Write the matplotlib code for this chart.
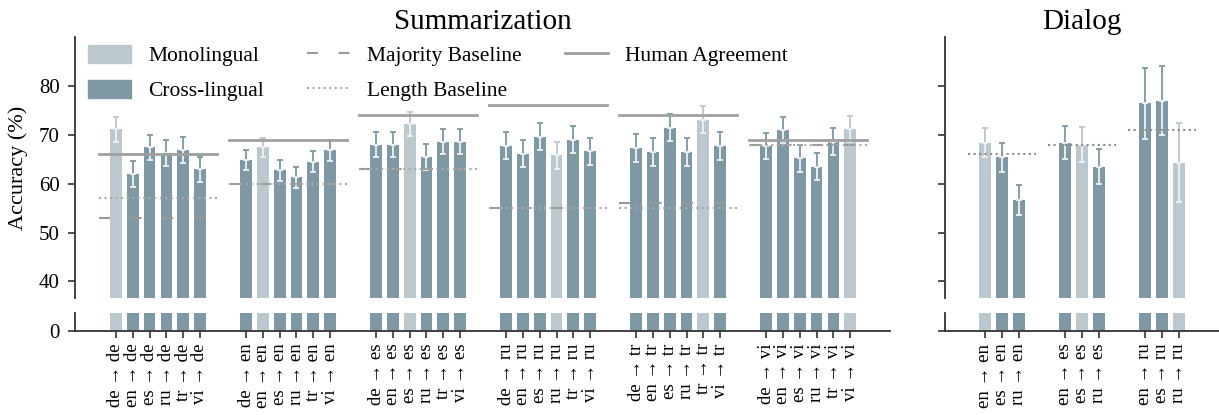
import numpy as np
import matplotlib
matplotlib.use("Agg")
import matplotlib.pyplot as plt
from matplotlib.patches import Patch
from matplotlib.lines import Line2D

plt.rcParams['font.family'] = ['Liberation Serif', 'DejaVu Serif']

# ---- data ----
langs = ['de', 'en', 'es', 'ru', 'tr', 'vi']

# summarization: one row per target language, columns = source language
summ_acc = [
    [71.1, 62.0, 67.4, 66.3, 66.8, 62.9],   # -> de
    [64.8, 67.4, 62.7, 61.3, 64.5, 66.8],   # -> en
    [68.0, 68.0, 72.2, 65.4, 68.6, 68.6],   # -> es
    [67.8, 66.1, 69.6, 65.8, 69.0, 66.6],   # -> ru
    [67.3, 66.5, 71.4, 66.5, 73.1, 67.7],   # -> tr
    [67.7, 70.9, 65.2, 63.5, 68.6, 71.2],   # -> vi
]
summ_err = [
    [2.5, 2.6, 2.6, 2.65, 2.65, 2.65],
    [2.1, 1.95, 2.1, 2.2, 2.1, 2.1],
    [2.5, 2.5, 2.5, 2.7, 2.55, 2.55],
    [2.8, 2.75, 2.75, 2.8, 2.75, 2.8],
    [2.85, 2.8, 2.75, 2.8, 2.7, 2.85],
    [2.75, 2.65, 2.8, 2.8, 2.7, 2.7],
]
summ_human = [66, 69, 74, 76, 74, 69]
summ_majority = [53, 60, 63, 55, 56, 68]
summ_length = [57, 60, 63, 55, 55, 68]

dial_langs = ['en', 'es', 'ru']
dial_acc = [
    [68.4, 65.4, 56.6],   # -> en
    [68.4, 68.0, 63.5],   # -> es
    [76.4, 77.0, 64.3],   # -> ru
]
dial_err = [
    [2.9, 2.95, 3.05],
    [3.45, 3.5, 3.6],
    [7.2, 7.15, 8.15],
]
dial_length = [66, 68, 71]

MONO = '#bcc8ce'
CROSS = '#7f99a4'
LINE = '#a0a0a0'
SPINE = '#333333'

W, H = 1219, 415
fig = plt.figure(figsize=(W / 100, H / 100), dpi=100)


def rect(x0, x1, ytop, ybot):
    return [x0 / W, 1 - ybot / H, (x1 - x0) / W, (ybot - ytop) / H]


def style(top, bottom, labels_y):
    for a in (top, bottom):
        a.spines['top'].set_visible(False)
        a.spines['right'].set_visible(False)
        a.spines['left'].set_color(SPINE)
        a.spines['left'].set_linewidth(1.3)
        a.tick_params(axis='y', length=5, width=1.2, color=SPINE, labelsize=15, pad=6)
    top.spines['bottom'].set_visible(False)
    top.tick_params(axis='x', bottom=False, labelbottom=False)
    top.set_ylim(36.6, 90)
    top.set_yticks([40, 50, 60, 70, 80])
    bottom.spines['bottom'].set_color(SPINE)
    bottom.spines['bottom'].set_linewidth(1.3)
    bottom.set_ylim(0, 3.6)
    bottom.set_yticks([0])
    bottom.tick_params(axis='x', length=5, width=1.2, color=SPINE, labelsize=13.5, pad=4)
    if not labels_y:
        top.tick_params(axis='y', labelleft=False)
        bottom.tick_params(axis='y', labelleft=False)


def draw(top, bottom, targets, sources, acc, err, gap, lines):
    xs, labels = [], []
    for g, t in enumerate(targets):
        for j, s in enumerate(sources):
            x = g * gap + j
            y = acc[g][j]
            e = err[g][j]
            c = MONO if s == t else CROSS
            for a in (top, bottom):
                a.bar(x, y, width=0.7, color=c, zorder=2)
            top.errorbar(x, y, yerr=[[0], [e]], fmt='none', ecolor=c,
                         elinewidth=1.3, capsize=2.5, capthick=1.3, zorder=3)
            top.errorbar(x, y, yerr=[[e], [0]], fmt='none', ecolor='#eef2f4',
                         elinewidth=1.3, capsize=2.5, capthick=1.3, zorder=3)
            xs.append(x)
            labels.append(f'{s} → {t}')
        half = len(sources) / 2 + 0.5
        cx = g * gap + (len(sources) - 1) / 2
        for vals, kw in lines:
            top.plot([cx - half, cx + half], [vals[g], vals[g]], zorder=4, **kw)
    bottom.set_xticks(xs)
    bottom.set_xticklabels(labels, rotation=90)


human_kw = dict(color=LINE, lw=2, ls='-')
major_kw = dict(color='#999999', lw=1.5, ls=(0, (5.2, 10)))
length_kw = dict(color='#aaaaaa', lw=1.5, ls=':')

# summarization
ax1 = fig.add_axes(rect(75, 890, 37, 298))
ax1b = fig.add_axes(rect(75, 890, 313, 331))
style(ax1, ax1b, True)
draw(ax1, ax1b, langs, langs, summ_acc, summ_err, 7.74,
     [(summ_human, human_kw), (summ_majority, major_kw), (summ_length, length_kw)])
ax1.set_xlim(-2.44, 46.07)
ax1b.set_xlim(-2.44, 46.07)
ax1.set_title('Summarization', fontsize=21, pad=6)
ax1.set_ylabel('Accuracy (%)', fontsize=16, labelpad=8)

# dialog
ax2 = fig.add_axes(rect(945, 1219, 37, 298))
ax2b = fig.add_axes(rect(945, 1219, 313, 331))
style(ax2, ax2b, False)
draw(ax2, ax2b, dial_langs, dial_langs, dial_acc, dial_err, 4.7,
     [(dial_length, dict(color='#8c8c8c', lw=1.5, ls=':'))])
ax2.set_xlim(-2.35, 13.76)
ax2b.set_xlim(-2.35, 13.76)
ax2.set_title('Dialog', fontsize=21, pad=6)

handles = [
    Patch(color=MONO, label='Monolingual'),
    Patch(color=CROSS, label='Cross-lingual'),
    Line2D([], [], label='Majority Baseline', **major_kw),
    Line2D([], [], label='Length Baseline', **length_kw),
    Line2D([], [], label='Human Agreement', **human_kw),
]
ax1.legend(handles=handles, ncol=3, loc='upper left', bbox_to_anchor=(0.0, 1.02),
           frameon=False, fontsize=15.5, handlelength=2.0, handleheight=0.9,
           handletextpad=0.8, columnspacing=2.0, labelspacing=0.65, borderaxespad=0.2)

fig.savefig('out.png', dpi=100)
